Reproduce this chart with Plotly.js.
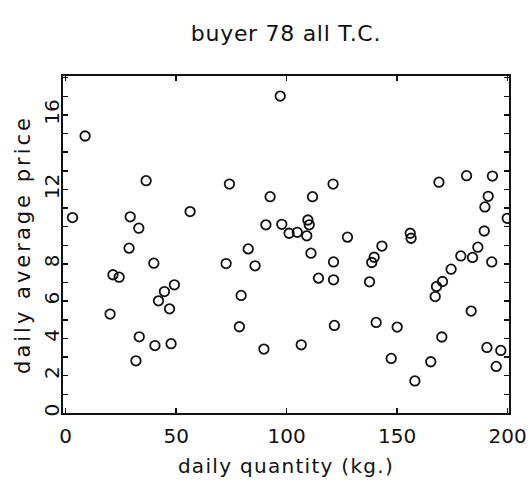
<!DOCTYPE html>
<html>
<head>
<meta charset="utf-8">
<script src="https://cdn.plot.ly/plotly-3.0.1.min.js"></script>
<style>
html,body{margin:0;padding:0;background:#fff;}
#chart{width:532px;height:484px;}
#chart .gtitle{letter-spacing:0.7px;}
#chart .xtitle{letter-spacing:1.3px;}
#chart .ytitle{letter-spacing:3px;}
</style>
</head>
<body>
<div id="chart"></div>
<script>
const chartTitle = "buyer 78 all T.C.";
const xTitle = "daily quantity (kg.)";
const yTitle = "daily average price";

const quantity = [
  8.8, 36.4, 3.1, 29.2, 33.1, 56.3, 28.7, 39.9, 21.4, 24.2,
  49.2, 44.7, 42.0, 47.0, 20.1, 33.3, 40.4, 47.7, 31.8,
  74.1, 121.0, 92.5, 111.7, 90.6, 97.8, 101.1, 104.8, 109.6, 110.2,
  109.1, 127.5, 82.6, 111.0, 72.6, 85.7, 121.2, 114.4, 121.2, 79.4,
  97.1, 78.6, 121.6, 89.7, 106.6,
  168.9, 181.4, 193.1, 191.2, 189.7, 199.8, 189.4, 155.9, 156.3, 186.5,
  143.1, 139.6, 138.5, 178.8, 184.1, 192.8, 174.4, 170.5, 167.8, 167.2,
  137.5, 183.5, 140.5, 150.0, 170.2, 147.3, 165.2, 158.0, 190.6, 196.9, 194.8
];
const price = [
  14.87, 12.47, 10.49, 10.53, 9.92, 10.81, 8.85, 8.04, 7.42, 7.29,
  6.88, 6.52, 6.02, 5.59, 5.31, 4.09, 3.62, 3.72, 2.80,
  12.29, 12.29, 11.61, 11.61, 10.10, 10.13, 9.65, 9.70, 10.36, 10.10,
  9.51, 9.44, 8.81, 8.58, 8.02, 7.90, 8.11, 7.24, 7.15, 6.31,
  17.01, 4.63, 4.70, 3.43, 3.66,
  12.39, 12.74, 12.72, 11.63, 11.06, 10.45, 9.77, 9.65, 9.38, 8.90,
  8.96, 8.36, 8.08, 8.43, 8.35, 8.11, 7.72, 7.06, 6.79, 6.25,
  7.04, 5.47, 4.86, 4.61, 4.08, 2.93, 2.75, 1.72, 3.52, 3.36, 2.50
];

const xTickVals = [0, 50, 100, 150, 200];
const xTickText = ["0", "50", "100", "150", "200"];
const yTickVals = [0,1,2,3,4,5,6,7,8,9,10,11,12,13,14,15,16,17,18];
const yTickText = ["0","","2","","4","","6","","8","","","","12","","","","16","",""];

const font = "DejaVu Sans, sans-serif";

const trace = {
  type: "scatter",
  mode: "markers",
  x: quantity,
  y: price,
  cliponaxis: true,
  marker: {symbol: "circle-open", size: 9.5, color: "#111", line: {width: 1.8, color: "#111"}},
  hoverinfo: "x+y"
};

const layout = {
  width: 532, height: 484,
  paper_bgcolor: "#fff", plot_bgcolor: "#fff",
  margin: {l: 63, r: 23, t: 76, b: 71},
  showlegend: false,
  font: {family: font, color: "#111"},
  title: {text: chartTitle, font: {family: font, size: 22, color: "#111"},
          x: 0.5, xref: "paper", xanchor: "center", y: 1 - 33/484, yref: "container", yanchor: "middle"},
  xaxis: {
    range: [-1.2, 200.6], showgrid: false, zeroline: false,
    showline: true, linewidth: 2.2, linecolor: "#111", mirror: "ticks",
    ticks: "inside", ticklen: 5, tickwidth: 1.5, tickcolor: "#111",
    tickmode: "array", tickvals: xTickVals, ticktext: xTickText,
    tickfont: {family: font, size: 20, color: "#111"},
    ticklabelstandoff: 4,
    title: {text: xTitle, font: {family: font, size: 20, color: "#111"}, standoff: 12}
  },
  yaxis: {
    range: [0, 18.09], showgrid: false, zeroline: false,
    showline: true, linewidth: 2.2, linecolor: "#111", mirror: "ticks",
    ticks: "inside", ticklen: 5, tickwidth: 1.5, tickcolor: "#111",
    tickmode: "array", tickvals: yTickVals, ticktext: yTickText,
    tickangle: -90,
    tickfont: {family: font, size: 20, color: "#111"},
    ticklabelstandoff: -6,
    title: {text: yTitle, font: {family: font, size: 21, color: "#111"}, standoff: 4}
  }
};

Plotly.newPlot("chart", [trace], layout, {displayModeBar: false, staticPlot: true});
</script>
</body>
</html>
